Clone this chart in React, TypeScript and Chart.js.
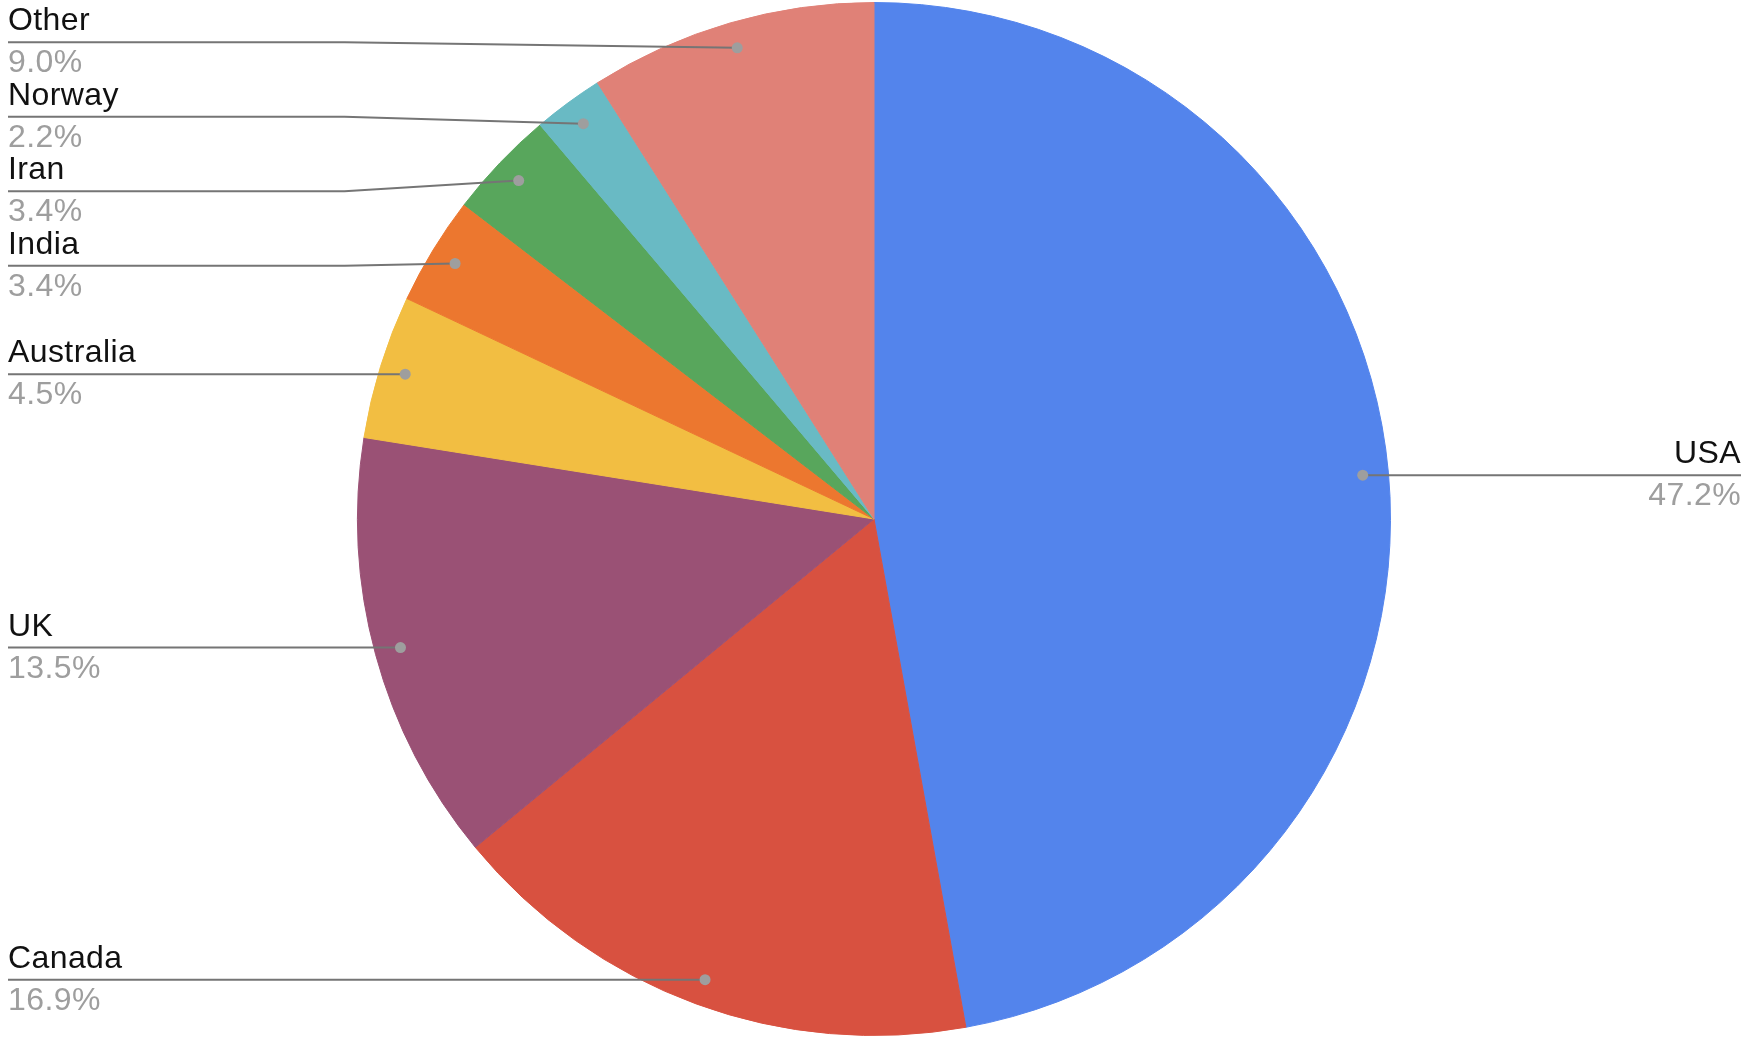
import React, { useEffect, useRef } from "react";
import { Chart, registerables } from "chart.js";

Chart.register(...registerables);

const categories = ["USA", "Canada", "UK", "Australia", "India", "Iran", "Norway", "Other"];
const shares = [47.2, 16.9, 13.5, 4.5, 3.4, 3.4, 2.2, 9.0];
const sliceColors = ["#5384EC", "#D85140", "#9A5175", "#F2BE42", "#EC772F", "#58A65C", "#69BAC4", "#E08177"];
const percentLabels = shares.map((v) => v.toFixed(1) + "%");

type Item = {
  i: number;
  cx: number;
  cy: number;
  R: number;
  px: number;
  py: number;
  right: boolean;
  ly: number;
};

function resolveLabels(list: Item[], gap: number) {
  list.sort((a, b) => a.py - b.py);
  let clusters = list.map((it) => ({ items: [it], sum: it.py }));
  const start = (c: { items: Item[]; sum: number }) =>
    c.sum / c.items.length - ((c.items.length - 1) * gap) / 2;
  let changed = true;
  while (changed) {
    changed = false;
    for (let k = 0; k < clusters.length - 1; k++) {
      const a = clusters[k];
      const b = clusters[k + 1];
      const aEnd = start(a) + (a.items.length - 1) * gap;
      if (start(b) - aEnd < gap) {
        clusters.splice(k, 2, { items: a.items.concat(b.items), sum: a.sum + b.sum });
        changed = true;
        break;
      }
    }
  }
  clusters.forEach((c) => {
    const s = start(c);
    c.items.forEach((it, j) => {
      it.ly = s + j * gap;
    });
  });
}

const leaderPlugin = {
  id: "leaderLabels",
  afterDatasetsDraw(chart: any) {
    const ctx: CanvasRenderingContext2D = chart.ctx;
    const meta = chart.getDatasetMeta(0);
    const items: Item[] = meta.data.map((arc: any, i: number) => {
      const p = arc.getProps(["x", "y", "startAngle", "endAngle", "outerRadius"], true);
      const mid = (p.startAngle + p.endAngle) / 2;
      const r = p.outerRadius * 0.95;
      return {
        i,
        cx: p.x,
        cy: p.y,
        R: p.outerRadius,
        px: p.x + Math.cos(mid) * r,
        py: p.y + Math.sin(mid) * r,
        right: Math.cos(mid) > 0,
        ly: 0,
      };
    });
    const left = items.filter((it) => !it.right);
    const right = items.filter((it) => it.right);
    const GAP = 74.5;
    resolveLabels(left, GAP);
    resolveLabels(right, GAP);

    const textLeft = 8;
    const textRight = chart.width - 9;

    ctx.save();
    // lines
    ctx.strokeStyle = "#757575";
    ctx.lineWidth = 2;
    items.forEach((it) => {
      ctx.beginPath();
      if (it.right) {
        const bend = it.cx + it.R + 13;
        ctx.moveTo(it.px, it.py);
        if (Math.abs(it.ly - it.py) > 0.5) ctx.lineTo(bend, it.ly);
        ctx.lineTo(textRight, it.ly);
      } else {
        const bend = it.cx - it.R - 13;
        ctx.moveTo(textLeft, it.ly);
        if (Math.abs(it.ly - it.py) > 0.5) ctx.lineTo(bend, it.ly);
        ctx.lineTo(it.px, it.py);
      }
      ctx.stroke();
    });
    // dots
    ctx.fillStyle = "#9E9E9E";
    items.forEach((it) => {
      ctx.beginPath();
      ctx.arc(it.px, it.py, 5.5, 0, Math.PI * 2);
      ctx.fill();
    });
    // text
    ctx.font = '32px "Liberation Sans", Arial, sans-serif';
    (ctx as any).letterSpacing = "0.4px";
    ctx.textBaseline = "alphabetic";
    items.forEach((it) => {
      ctx.textAlign = it.right ? "right" : "left";
      const x = it.right ? textRight : textLeft;
      ctx.fillStyle = "#111111";
      ctx.fillText(categories[it.i], x, it.ly - 12);
      ctx.fillStyle = "#9E9E9E";
      ctx.fillText(percentLabels[it.i], x, it.ly + 30);
    });
    ctx.restore();
  },
};

export default function App() {
  const canvasRef = useRef<HTMLCanvasElement | null>(null);

  useEffect(() => {
    if (!canvasRef.current) return;
    const chart = new Chart(canvasRef.current, {
      type: "pie",
      data: {
        labels: categories,
        datasets: [
          {
            data: shares,
            backgroundColor: sliceColors,
            borderColor: sliceColors,
            borderWidth: 1,
          },
        ],
      },
      options: {
        animation: false,
        responsive: true,
        maintainAspectRatio: false,
        events: [],
        layout: { padding: { top: 2, bottom: 9, left: 0, right: 2 } },
        plugins: {
          legend: { display: false },
          tooltip: { enabled: false },
          title: { display: false },
        },
      },
      plugins: [leaderPlugin],
    });
    return () => chart.destroy();
  }, []);

  return (
    <div
      style={{
        position: "absolute",
        left: 0,
        top: 0,
        width: 1750,
        height: 1045,
        background: "#ffffff",
      }}
    >
      <canvas ref={canvasRef} />
    </div>
  );
}
